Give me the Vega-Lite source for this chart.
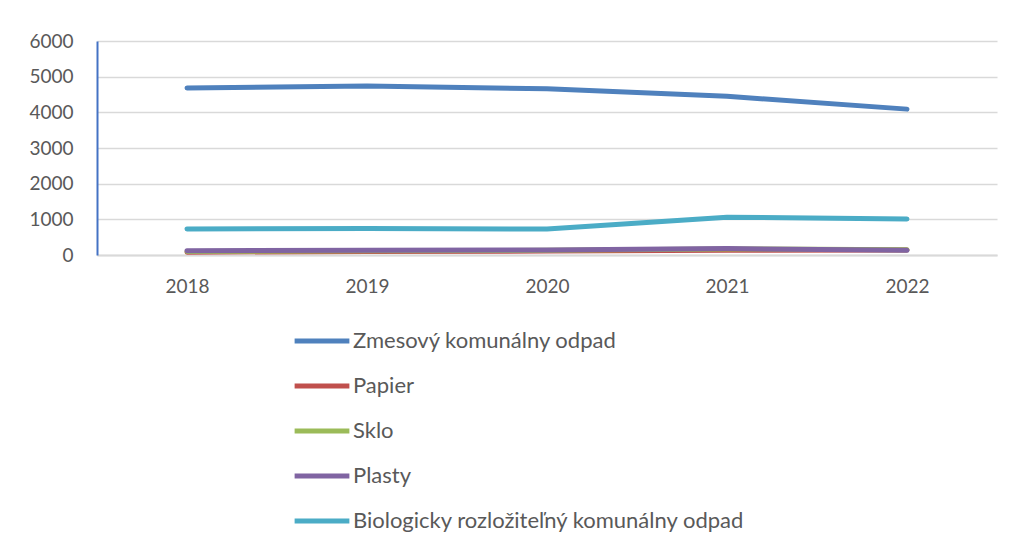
{
  "$schema": "https://vega.github.io/schema/vega-lite/v6.json",
  "width": 900,
  "height": 214,
  "autosize": {"type": "none"},
  "padding": {"left": 97, "top": 41, "right": 15, "bottom": 291},
  "background": "white",
  "config": {"view": {"stroke": null}, "font": "Lato"},
  "data": {"values": [
    {"rok": "2018", "druh": "Zmesový komunálny odpad", "t": 4680},
    {"rok": "2019", "druh": "Zmesový komunálny odpad", "t": 4740},
    {"rok": "2020", "druh": "Zmesový komunálny odpad", "t": 4660},
    {"rok": "2021", "druh": "Zmesový komunálny odpad", "t": 4450},
    {"rok": "2022", "druh": "Zmesový komunálny odpad", "t": 4090},
    {"rok": "2018", "druh": "Papier", "t": 80},
    {"rok": "2019", "druh": "Papier", "t": 100},
    {"rok": "2020", "druh": "Papier", "t": 110},
    {"rok": "2021", "druh": "Papier", "t": 130},
    {"rok": "2022", "druh": "Papier", "t": 140},
    {"rok": "2018", "druh": "Sklo", "t": 100},
    {"rok": "2019", "druh": "Sklo", "t": 120},
    {"rok": "2020", "druh": "Sklo", "t": 130},
    {"rok": "2021", "druh": "Sklo", "t": 170},
    {"rok": "2022", "druh": "Sklo", "t": 150},
    {"rok": "2018", "druh": "Plasty", "t": 120},
    {"rok": "2019", "druh": "Plasty", "t": 130},
    {"rok": "2020", "druh": "Plasty", "t": 140},
    {"rok": "2021", "druh": "Plasty", "t": 180},
    {"rok": "2022", "druh": "Plasty", "t": 130},
    {"rok": "2018", "druh": "Biologicky rozložiteľný komunálny odpad", "t": 730},
    {"rok": "2019", "druh": "Biologicky rozložiteľný komunálny odpad", "t": 740},
    {"rok": "2020", "druh": "Biologicky rozložiteľný komunálny odpad", "t": 730},
    {"rok": "2021", "druh": "Biologicky rozložiteľný komunálny odpad", "t": 1060},
    {"rok": "2022", "druh": "Biologicky rozložiteľný komunálny odpad", "t": 1010}
  ]},
  "mark": {"type": "line", "strokeWidth": 5, "strokeCap": "round", "strokeJoin": "round"},
  "encoding": {
    "x": {"field": "rok", "type": "ordinal", "scale": {"type": "point", "padding": 0.5},
      "axis": {"title": null, "labelAngle": 0, "labelFontSize": 19, "labelColor": "#595959", "labelPadding": 22,
        "domainColor": "#d9d9d9", "domainWidth": 2, "ticks": false, "grid": false}},
    "y": {"field": "t", "type": "quantitative", "scale": {"domain": [0, 6000], "nice": false},
      "axis": {"title": null, "values": [0, 1000, 2000, 3000, 4000, 5000, 6000], "format": "d", "labelFontSize": 19, "labelColor": "#595959",
        "labelPadding": 24, "domainColor": "#4472C4", "domainWidth": 2, "ticks": false, "gridColor": "#d9d9d9", "gridWidth": 1.5}},
    "color": {"field": "druh", "type": "nominal",
      "sort": ["Zmesový komunálny odpad", "Papier", "Sklo", "Plasty", "Biologicky rozložiteľný komunálny odpad"],
      "scale": {"domain": ["Zmesový komunálny odpad", "Papier", "Sklo", "Plasty", "Biologicky rozložiteľný komunálny odpad"],
        "range": ["#4F81BD", "#C0504D", "#9BBB59", "#8064A2", "#4BACC6"]},
      "legend": {"title": null, "orient": "none", "legendX": 195, "legendY": 270, "direction": "vertical",
        "symbolType": "stroke", "symbolSize": 3000, "symbolStrokeWidth": 5, "labelFontSize": 22, "labelColor": "#595959",
        "labelOffset": 1, "rowPadding": 4, "labelLimit": 600}}
  }
}
